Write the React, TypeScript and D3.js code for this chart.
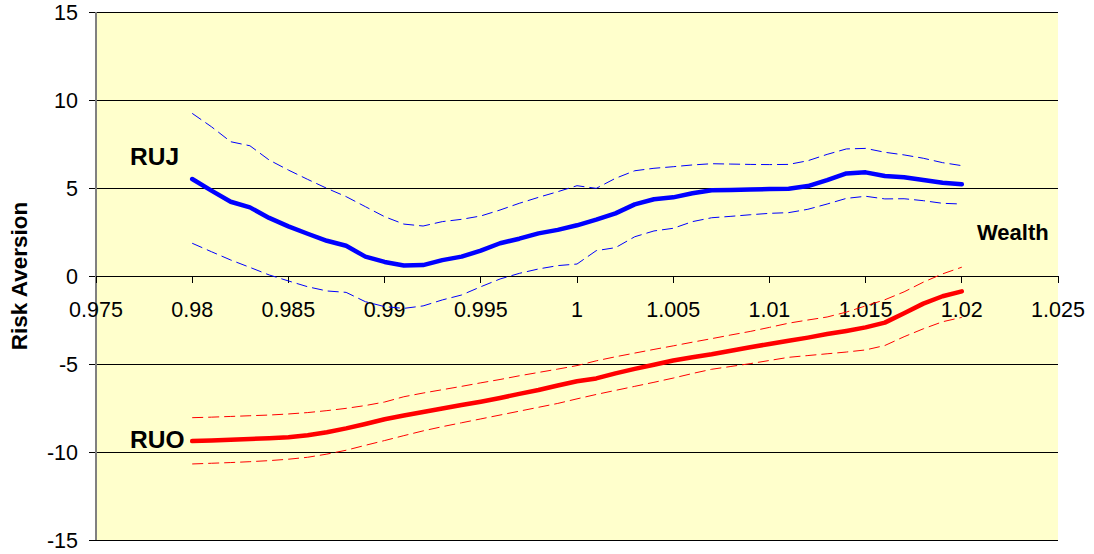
import React from "react";
import * as d3 from "d3";

// Wealth grid (x values of every series)
const wealth = [
  0.98, 0.981, 0.982, 0.983, 0.984, 0.985, 0.986, 0.987, 0.988, 0.989,
  0.99, 0.991, 0.992, 0.993, 0.994, 0.995, 0.996, 0.997, 0.998, 0.999,
  1.0, 1.001, 1.002, 1.003, 1.004, 1.005, 1.006, 1.007, 1.008, 1.009,
  1.01, 1.011, 1.012, 1.013, 1.014, 1.015, 1.016, 1.017, 1.018, 1.019,
  1.02,
];

// RUJ estimate with its upper / lower bands
const ruj = [
  5.51, 4.85, 4.22, 3.9, 3.3, 2.82, 2.4, 2.0, 1.72, 1.1,
  0.8, 0.6, 0.62, 0.9, 1.1, 1.44, 1.86, 2.12, 2.42, 2.62,
  2.88, 3.2, 3.56, 4.07, 4.36, 4.47, 4.7, 4.87, 4.89, 4.92,
  4.94, 4.96, 5.11, 5.45, 5.83, 5.89, 5.68, 5.61, 5.45, 5.3,
  5.21,
];
const rujUpper = [
  9.24, 8.48, 7.63, 7.4, 6.59, 6.02, 5.49, 4.98, 4.51, 3.94,
  3.37, 2.95, 2.84, 3.09, 3.22, 3.41, 3.75, 4.13, 4.47, 4.79,
  5.13, 4.98, 5.55, 5.98, 6.12, 6.21, 6.31, 6.38, 6.36, 6.34,
  6.33, 6.34, 6.55, 6.91, 7.22, 7.25, 7.03, 6.88, 6.69, 6.44,
  6.27,
];
const rujLower = [
  1.86, 1.38, 0.91, 0.49, 0.06, -0.28, -0.61, -0.85, -0.93, -1.46,
  -1.74, -1.84, -1.7, -1.36, -1.08, -0.61, -0.17, 0.15, 0.4, 0.59,
  0.68, 1.44, 1.61, 2.23, 2.56, 2.71, 3.09, 3.31, 3.39, 3.48,
  3.56, 3.6, 3.79, 4.09, 4.41, 4.53, 4.38, 4.39, 4.28, 4.13,
  4.09,
];

// RUO estimate with its upper / lower bands
const ruo = [
  -9.38, -9.34, -9.3, -9.26, -9.22, -9.16, -9.05, -8.88, -8.66, -8.41,
  -8.14, -7.93, -7.73, -7.53, -7.33, -7.14, -6.93, -6.7, -6.48, -6.22,
  -5.98, -5.82, -5.53, -5.28, -5.04, -4.8, -4.62, -4.45, -4.25, -4.05,
  -3.86, -3.68, -3.5, -3.3, -3.12, -2.92, -2.65, -2.12, -1.57, -1.15,
  -0.87,
];
const ruoUpper = [
  -8.05, -8.02, -7.98, -7.94, -7.9, -7.84, -7.76, -7.65, -7.52, -7.36,
  -7.16, -6.86, -6.65, -6.46, -6.27, -6.07, -5.88, -5.67, -5.48, -5.29,
  -5.09, -4.82, -4.59, -4.38, -4.17, -3.97, -3.76, -3.56, -3.35, -3.15,
  -2.92, -2.68, -2.5, -2.33, -2.05, -1.7, -1.35, -0.9, -0.35, 0.12,
  0.5,
];
const ruoLower = [
  -10.68, -10.64, -10.6, -10.55, -10.49, -10.41, -10.3, -10.12, -9.9, -9.62,
  -9.35, -9.07, -8.8, -8.56, -8.34, -8.12, -7.9, -7.68, -7.46, -7.24,
  -6.98, -6.73, -6.5, -6.27, -6.04, -5.8, -5.54, -5.3, -5.14, -4.98,
  -4.8, -4.62, -4.52, -4.42, -4.32, -4.2, -3.95, -3.45, -3.0, -2.6,
  -2.35,
];

const yTicks = [-15, -10, -5, 0, 5, 10, 15];
const xTicks = [0.975, 0.98, 0.985, 0.99, 0.995, 1, 1.005, 1.01, 1.015, 1.02, 1.025];

const W = 1094;
const H = 554;
const left = 96;
const right = 1058;
const top = 12;
const bottom = 540;

const FONT = "Arial, 'Liberation Sans', Helvetica, sans-serif";

export default function App() {
  const x = d3.scaleLinear().domain([0.975, 1.025]).range([left, right]);
  const y = d3.scaleLinear().domain([-15, 15]).range([bottom, top]);

  const line = (vals: number[]) =>
    d3
      .line<number>()
      .x((_, i) => x(wealth[i]))
      .y((v) => y(v))(vals) as string;

  const y0 = y(0);

  const series = [
    { d: rujUpper, color: "#0000FF", w: 1, dash: "11,5" },
    { d: rujLower, color: "#0000FF", w: 1, dash: "11,5" },
    { d: ruoUpper, color: "#FF0000", w: 1, dash: "11,5" },
    { d: ruoLower, color: "#FF0000", w: 1, dash: "11,5" },
    { d: ruj, color: "#0000FF", w: 4.5, dash: undefined },
    { d: ruo, color: "#FF0000", w: 4.5, dash: undefined },
  ];

  return (
    <svg
      width={W}
      height={H}
      style={{ position: "absolute", left: 0, top: 0, background: "#FFFFFF" }}
      fontFamily={FONT}
    >
      <rect x={left} y={top} width={right - left} height={bottom - top} fill="#FFFFCC" />

      {yTicks.map((t) => (
        <g key={"gy" + t}>
          <line x1={left - 7} x2={right} y1={y(t)} y2={y(t)} stroke="#000" strokeWidth={1} shapeRendering="crispEdges" />
          <text x={78} y={y(t)} dy="0.36em" textAnchor="end" fontSize={21.5} fill="#000">
            {t}
          </text>
        </g>
      ))}

      <line x1={left} x2={left} y1={top} y2={bottom} stroke="#808080" strokeWidth={1.5} shapeRendering="crispEdges" />

      {xTicks.map((t) => (
        <g key={"gx" + t}>
          <line x1={x(t)} x2={x(t)} y1={y0} y2={y0 + 7} stroke="#000" strokeWidth={1} shapeRendering="crispEdges" />
          <text x={x(t)} y={y0 + 41} textAnchor="middle" fontSize={21.5} fill="#000">
            {String(t)}
          </text>
        </g>
      ))}

      {series.map((s, i) => (
        <path
          key={i}
          d={line(s.d)}
          fill="none"
          stroke={s.color}
          strokeWidth={s.w}
          strokeDasharray={s.dash}
          strokeLinejoin="round"
          strokeLinecap={s.dash ? "butt" : "round"}
        />
      ))}

      <text x={130} y={165} fontSize={24.5} fontWeight="bold" fill="#000">RUJ</text>
      <text x={130} y={448} fontSize={24.5} fontWeight="bold" fill="#000">RUO</text>
      <text x={977} y={239.5} fontSize={22} fontWeight="bold" fill="#000">Wealth</text>
      <text
        transform={`translate(27,${y0}) rotate(-90)`}
        textAnchor="middle"
        fontSize={22.5}
        fontWeight="bold"
        fill="#000"
      >
        Risk Aversion
      </text>
    </svg>
  );
}
